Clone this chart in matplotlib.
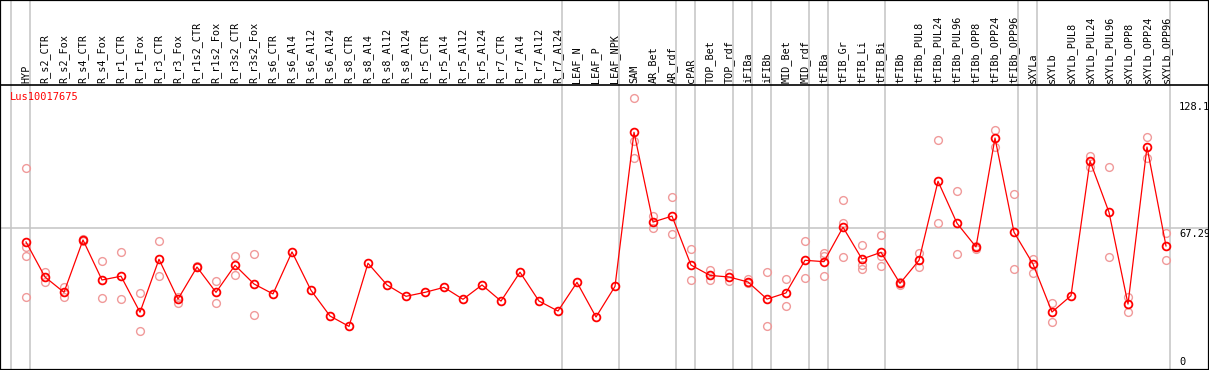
import numpy as np
from matplotlib import pyplot as plt

gene = "Lus10017675"
labels = ["HYP", "R_s2_CTR", "R_s2_Fox", "R_s4_CTR", "R_s4_Fox", "R_r1_CTR", "R_r1_Fox",
          "R_r3_CTR", "R_r3_Fox", "R_r1s2_CTR", "R_r1s2_Fox", "R_r3s2_CTR", "R_r3s2_Fox",
          "R_s6_CTR", "R_s6_Al4", "R_s6_Al12", "R_s6_Al24", "R_s8_CTR", "R_s8_Al4",
          "R_s8_Al12", "R_s8_Al24", "R_r5_CTR", "R_r5_Al4", "R_r5_Al12", "R_r5_Al24",
          "R_r7_CTR", "R_r7_Al4", "R_r7_Al12", "R_r7_Al24", "LEAF_N", "LEAF_P", "LEAF_NPK",
          "SAM", "AR_Bet", "AR_rdf", "cPAR", "TOP_Bet", "TOP_rdf", "iFIBa", "iFIBb",
          "MID_Bet", "MID_rdf", "tFIBa", "tFIB_Gr", "tFIB_Li", "tFIB_Bi", "tFIBb",
          "tFIBb_PUL8", "tFIBb_PUL24", "tFIBb_PUL96", "tFIBb_OPP8", "tFIBb_OPP24",
          "tFIBb_OPP96", "sXYLa", "sXYLb", "sXYLb_PUL8", "sXYLb_PUL24", "sXYLb_PUL96",
          "sXYLb_OPP8", "sXYLb_OPP24", "sXYLb_OPP96"]

means = [60.3, 42.7, 35.0, 61.3, 41.2, 43.1, 25.0, 51.6, 31.6, 47.7, 35.0, 48.6, 39.2,
         34.2, 55.3, 36.0, 23.1, 17.9, 49.6, 38.7, 33.0, 35.0, 37.5, 31.5, 38.7,
         30.6, 45.1, 30.6, 25.6, 40.0, 22.6, 38.0,
         115.4, 70.3, 73.3, 48.7, 43.5, 42.7, 40.2, 31.6, 34.7, 51.1, 50.4, 67.7, 51.7,
         55.1, 39.5, 51.1, 90.8, 69.7, 57.8, 112.5, 65.2, 49.2, 25.1, 33.3, 101.0, 75.2,
         29.1, 108.0, 58.3]

reps = [[97.5, 57.8, 53.2, 32.5], [45.2, 40.2], [37.8, 32.8], [61.8, 61.0], [50.6, 32.0],
        [55.1, 31.5], [34.7, 15.4], [60.6, 43.1], [32.8, 29.8], [48.0, 47.5], [40.5, 29.6],
        [53.2, 43.5], [54.1, 23.4], [], [], [], [], [], [], [], [], [], [], [], [],
        [], [], [], [], [], [], [],
        [132.6, 111.0, 102.3], [73.3, 67.2], [82.9, 64.3], [56.8, 41.2], [46.1, 41.2],
        [44.6, 40.7], [41.5, 39.5], [45.1, 17.9], [41.7, 28.0], [60.6, 42.0],
        [54.6, 53.0, 43.1], [81.2, 70.0, 52.7], [58.6, 48.7, 46.9], [63.8, 53.2, 48.2],
        [40.3, 38.9], [54.8, 47.6], [111.4, 69.7], [85.8, 54.1], [57.0, 58.3],
        [116.4, 108.2], [84.2, 46.6], [51.7, 44.6], [29.5, 19.9], [], [103.5, 97.8],
        [97.8, 52.7], [32.8, 25.3], [113.0, 102.6], [64.7, 51.1]]

# group separators drawn just right of these columns
groups = [-1, 0, 28, 31, 34, 35, 37, 38, 39, 41, 42, 45, 52, 53, 60]
ymax = 128.1
yref = 67.29

W, H = 1209, 370
fig = plt.figure(figsize=(W/100, H/100), dpi=100)
ax = fig.add_axes([0, 0, 1, 1])
# pixel mapping: column i at 26+19*i px, value 0 at 362 px, 128.1 at 107 px
sc = (362-107)/ymax
ax.set_xlim((0-26)/19, (W-26)/19)
ax.set_ylim((362-H)/sc, 362/sc)
for s in ax.spines.values():
    s.set_linewidth(1.6)
    s.set_color('black')
ax.set_xticks([])
ax.set_yticks([])

gray = '#c4c4c4'
xs = np.arange(len(labels))
for g in groups:
    ax.axvline(g + 4/19, color=gray, lw=1.1, zorder=1)
ax.axhline(yref, color=gray, lw=1.1, zorder=1)
top = (362-85)/sc
ax.axhline(top, color='black', lw=1.2, zorder=2)

for i, r in enumerate(reps):
    if r:
        ax.plot([i]*len(r), r, 'o', ms=5.6, mfc='none', mec='#f09a9a', mew=1.0, zorder=3)
ax.plot(xs, means, '-', color='red', lw=0.9, zorder=4)
ax.plot(xs, means, 'o', ms=5.6, mfc='none', mec='red', mew=1.3, zorder=5)

font = 'DejaVu Sans Mono'
for i, lab in enumerate(labels):
    ax.text(i, (362-83)/sc, lab, rotation=90, ha='center', va='bottom',
            fontsize=7.3, family=font, zorder=6)

ax.text((10-26)/19, (362-97)/sc, gene, color='red', fontsize=7.5, family=font,
        ha='left', va='center')
xr = (1179-26)/19
ax.text(xr, ymax, "128.1", fontsize=7.5, family=font, ha='left', va='center')
ax.text(xr, yref - 0.6, "67.29", fontsize=7.5, family=font, ha='left', va='top')
ax.text(xr, 0, "0", fontsize=7.5, family=font, ha='left', va='center')

fig.savefig('out.png', dpi=100)
